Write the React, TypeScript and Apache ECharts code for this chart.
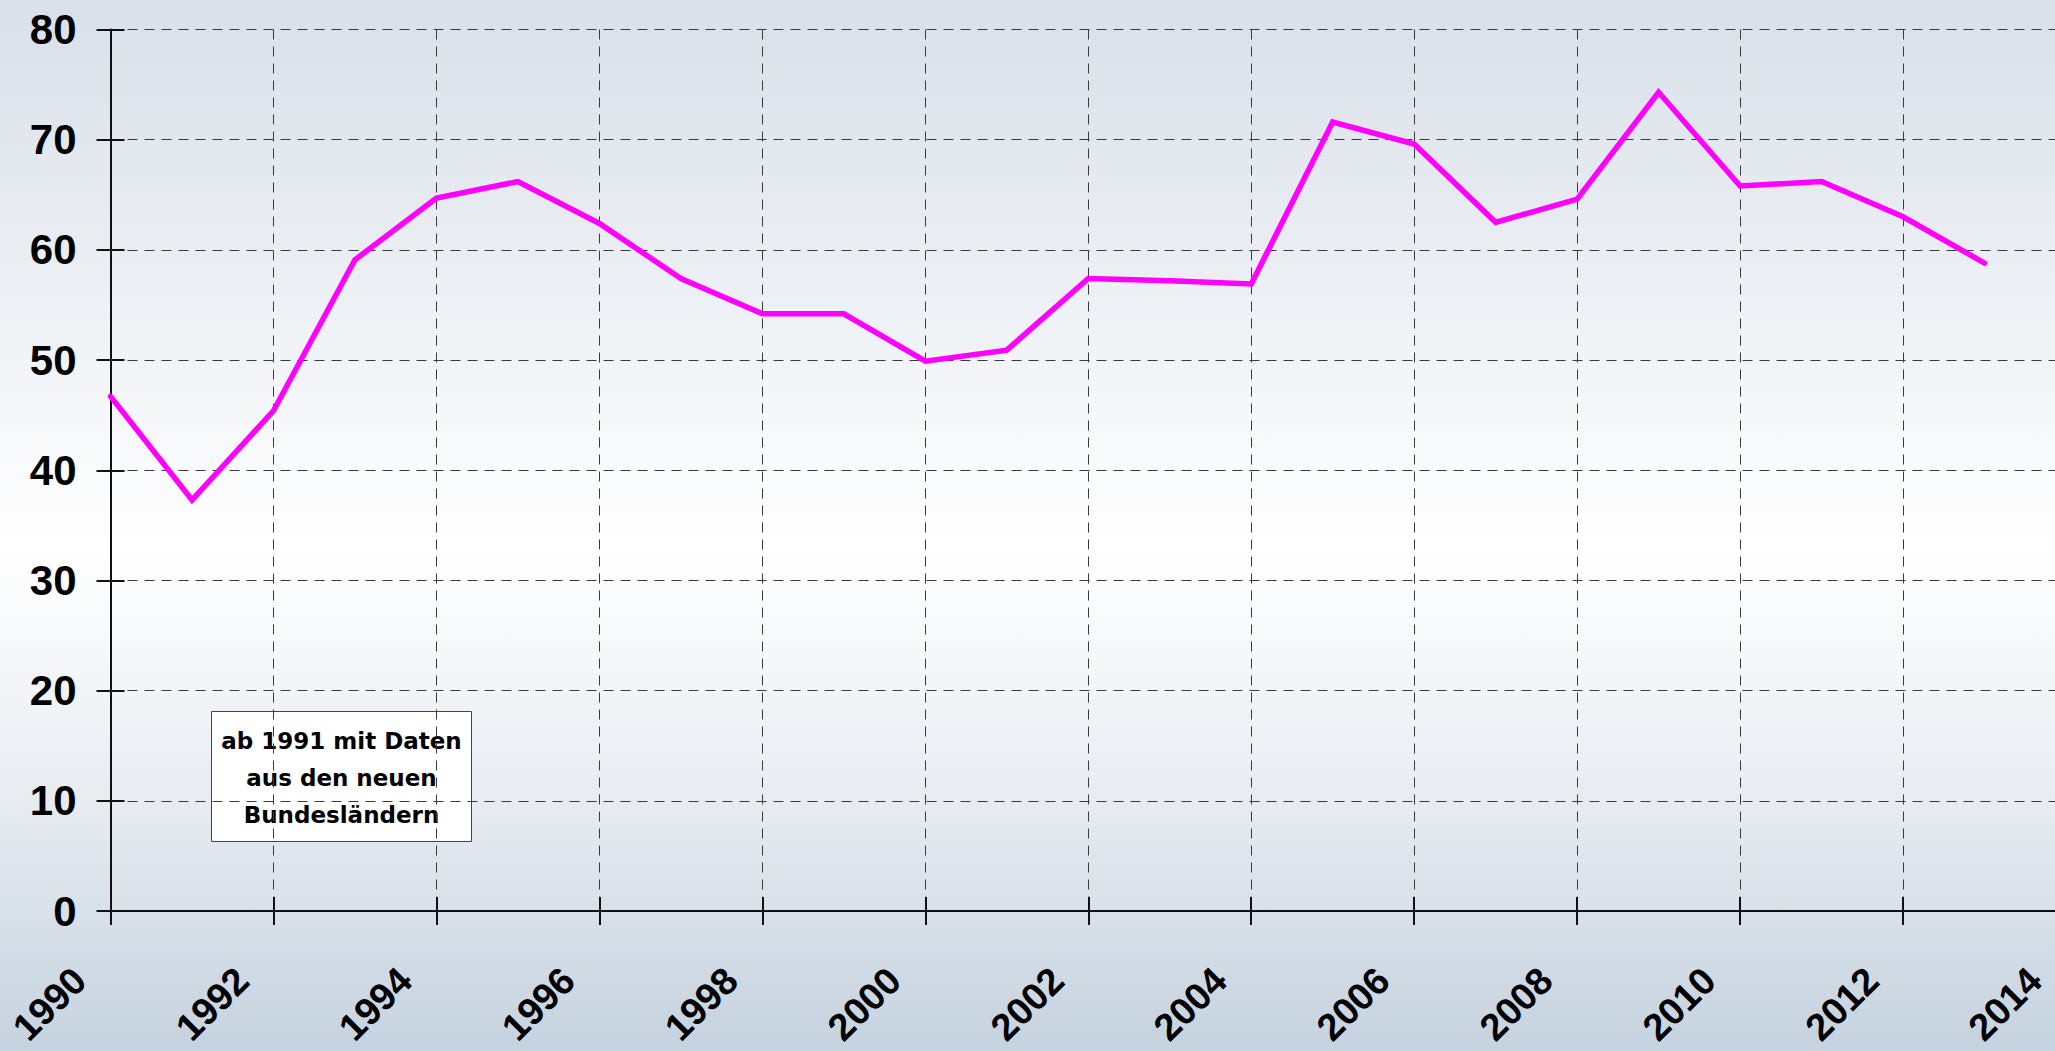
import React, { useEffect, useRef } from "react";
import * as echarts from "echarts";

const years = [1990, 1991, 1992, 1993, 1994, 1995, 1996, 1997, 1998, 1999, 2000, 2001, 2002, 2003, 2004, 2005, 2006, 2007, 2008, 2009, 2010, 2011, 2012, 2013];
const values = [46.7, 37.3, 45.4, 59.1, 64.7, 66.2, 62.4, 57.4, 54.2, 54.2, 49.9, 50.9, 57.4, 57.2, 56.9, 71.6, 69.6, 62.5, 64.6, 74.3, 65.8, 66.2, 63.0, 58.8];
const noteLines = ["ab 1991 mit Daten", "aus den neuen", "Bundesländern"];

const X_MIN = 1990;
const X_MAX = 2014;
const X_STEP = 2;
const Y_MIN = 0;
const Y_MAX = 80;
const Y_STEP = 10;

export default function App() {
  const ref = useRef<HTMLDivElement>(null);
  useEffect(() => {
    if (!ref.current) return;
    const chart = echarts.init(ref.current, undefined, { renderer: "svg" });
    const gridLine = { show: true, lineStyle: { color: "#3a3a3a", width: 1, type: [10, 7] as any } };
    const fontFamily = "'Liberation Sans', Arial, sans-serif";
    chart.setOption({
      animation: false,
      backgroundColor: new echarts.graphic.LinearGradient(0, 0, 0, 1, [
        { offset: 0, color: "#d9e0e9" },
        { offset: 0.3, color: "#eef1f5" },
        { offset: 0.52, color: "#ffffff" },
        { offset: 0.75, color: "#e9edf2" },
        { offset: 1, color: "#c5d2df" },
      ]),
      grid: { left: 110.5, top: 29.5, bottom: 140, right: -11, containLabel: false, outerBoundsMode: "none" },
      xAxis: [
        {
          type: "value",
          min: X_MIN,
          max: X_MAX,
          interval: X_STEP,
          axisLine: { show: true, onZero: false, lineStyle: { color: "#111", width: 2 } },
          axisTick: { show: true, inside: false, length: 14, lineStyle: { color: "#111", width: 2 } },
          axisLabel: {
            show: true,
            rotate: 45,
            margin: 32,
            padding: [0, 44, 0, 0],
            color: "#000",
            fontSize: 38,
            fontWeight: "bold",
            fontFamily,
            formatter: (v: number) => String(v),
          },
          splitLine: gridLine,
        },
        {
          type: "value",
          min: X_MIN,
          max: X_MAX,
          interval: X_STEP,
          position: "bottom",
          axisLine: { show: false },
          axisTick: { show: true, inside: true, length: 14, lineStyle: { color: "#111", width: 2 } },
          axisLabel: { show: false },
          splitLine: { show: false },
        },
      ],
      yAxis: [
        {
          type: "value",
          min: Y_MIN,
          max: Y_MAX,
          interval: Y_STEP,
          axisLine: { show: true, onZero: false, lineStyle: { color: "#111", width: 2 } },
          axisTick: { show: true, inside: false, length: 14, lineStyle: { color: "#111", width: 2 } },
          axisLabel: {
            show: true,
            margin: 34,
            color: "#000",
            fontSize: 42,
            fontWeight: "bold",
            fontFamily,
          },
          splitLine: gridLine,
        },
        {
          type: "value",
          min: Y_MIN,
          max: Y_MAX,
          interval: Y_STEP,
          position: "left",
          axisLine: { show: false },
          axisTick: { show: true, inside: true, length: 14, lineStyle: { color: "#111", width: 2 } },
          axisLabel: { show: false },
          splitLine: { show: false },
        },
      ],
      series: [
        {
          type: "line",
          xAxisIndex: 0,
          yAxisIndex: 0,
          data: years.map((y, i) => [y, values[i]]),
          symbol: "none",
          lineStyle: { color: "#ff00ff", width: 5.5, cap: "round", join: "miter" },
          z: 5,
        },
      ],
      graphic: [
        {
          type: "group",
          left: 211,
          top: 711,
          z: 10,
          children: [
            {
              type: "rect",
              shape: { x: 0, y: 0, width: 260, height: 130 },
              style: { fill: "#ffffff", stroke: "#444", lineWidth: 1 },
            },
            {
              type: "text",
              x: 130,
              y: 66,
              style: {
                text: noteLines.join("\n"),
                fill: "#000",
                font: "bold 23px 'DejaVu Sans', sans-serif",
                lineHeight: 37,
                align: "center",
                verticalAlign: "middle",
              },
            },
          ],
        },
      ],
    });
    return () => chart.dispose();
  }, []);
  return (
    <div
      ref={ref}
      style={{ position: "fixed", left: 0, top: 0, width: 2055, height: 1051 }}
    />
  );
}
